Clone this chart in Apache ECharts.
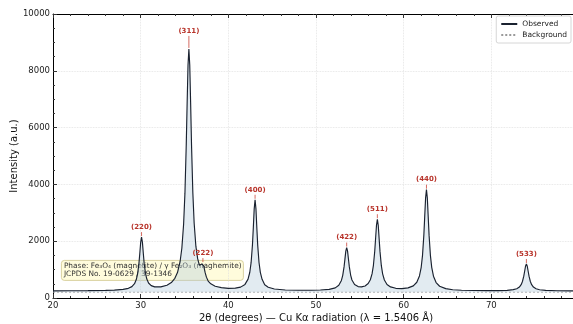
<!DOCTYPE html>
<html>
<head>
<meta charset="utf-8">
<title>XRD pattern</title>
<script src="https://cdn.jsdelivr.net/npm/echarts@6/dist/echarts.min.js"></script>
<style>
  html, body { margin: 0; padding: 0; background: #fff; }
  #xrd { width: 573px; height: 324px; }
</style>
</head>
<body>
<div id="xrd"></div>
<script>
// observed pattern (2θ in degrees, intensity in a.u.)
var theta = [20, 22, 24, 26, 27, 28, 28.6, 29, 29.3, 29.5, 29.65, 29.8, 29.9, 30, 30.1, 30.2, 30.3, 30.4, 30.55, 30.7,
  30.9, 31.2, 31.6, 32.3, 33, 33.5, 33.9, 34.2, 34.5, 34.7, 34.9, 35.05, 35.2, 35.3, 35.4, 35.5, 35.6, 35.7, 35.8, 35.95,
  36.1, 36.3, 36.5, 36.7, 36.85, 37, 37.1, 37.2, 37.35, 37.5, 37.7, 38, 38.5, 39.2, 40, 40.8, 41.4, 41.9, 42.25, 42.45,
  42.6, 42.75, 42.85, 42.95, 43.05, 43.15, 43.25, 43.35, 43.5, 43.65, 43.85, 44.15, 44.55, 45.25, 46.5, 48, 49.5, 50.5, 51.5, 52.2,
  52.6, 52.9, 53.05, 53.2, 53.3, 53.4, 53.5, 53.6, 53.7, 53.8, 53.95, 54.1, 54.4, 54.8, 55.2, 55.6, 55.95, 56.2, 56.4, 56.55,
  56.7, 56.8, 56.9, 57, 57.1, 57.2, 57.3, 57.45, 57.6, 57.8, 58.1, 58.5, 59.1, 59.8, 60.5, 61.1, 61.5, 61.8, 62, 62.15,
  62.3, 62.4, 62.5, 62.6, 62.7, 62.8, 62.9, 63.05, 63.2, 63.4, 63.7, 64.1, 64.8, 65.6, 66.6, 68, 69.5, 70.8, 71.8, 72.5,
  72.9, 73.2, 73.4, 73.55, 73.7, 73.8, 73.9, 74, 74.1, 74.2, 74.3, 74.45, 74.6, 74.8, 75.1, 75.5, 76.2, 77.5, 79, 80];
var intensity = [252, 254, 258, 268, 278, 303, 341, 400, 504, 649, 851, 1209, 1567, 1956, 2144, 1960, 1575, 1219, 865, 667,
  529, 435, 393, 392, 450, 544, 694, 897, 1285, 1759, 2605, 3692, 5393, 6845, 8189, 8770, 8194, 6854, 5406, 3714,
  2638, 1816, 1385, 1150, 1140, 1200, 1230, 1120, 900, 735, 595, 498, 415, 364, 339, 346, 383, 479, 664, 907,
  1252, 1864, 2476, 3139, 3458, 3140, 2474, 1862, 1250, 903, 656, 464, 381, 316, 282, 273, 273, 281, 304, 357,
  447, 619, 797, 1095, 1371, 1649, 1776, 1651, 1375, 1103, 809, 634, 476, 401, 391, 423, 508, 642, 857, 1151,
  1645, 2101, 2563, 2774, 2560, 2097, 1641, 1146, 851, 633, 478, 390, 341, 331, 356, 428, 555, 776, 1082, 1501,
  2206, 2857, 3515, 3814, 3515, 2856, 2205, 1500, 1079, 768, 545, 414, 329, 292, 274, 263, 260, 261, 271, 293,
  327, 386, 468, 581, 769, 942, 1118, 1198, 1118, 942, 769, 581, 468, 386, 326, 292, 269, 256, 252, 251];

// background estimate
var bgTheta = [20, 80];
var bgIntensity = [205, 205];

// indexed reflections
var peakHkl = ['(220)', '(311)', '(222)', '(400)', '(422)', '(511)', '(440)', '(533)'];
var peakTheta = [30.1, 35.5, 37.1, 43.05, 53.5, 57.0, 62.6, 74.0];
var peakIntensity = [2144, 8770, 1230, 3458, 1776, 2774, 3814, 1198];

var font = 'DejaVu Sans';

var observed = theta.map(function (t, i) { return [t, intensity[i]]; });
var background = bgTheta.map(function (t, i) { return [t, bgIntensity[i]]; });
var peaks = peakTheta.map(function (t, i) { return [t, peakIntensity[i]]; });

var chart = echarts.init(document.getElementById('xrd'), null, { renderer: 'canvas' });

var option = {
  animation: false,
  textStyle: { fontFamily: font },
  grid: { left: 53, right: -6, top: 14, bottom: 26, containLabel: false, outerBoundsMode: 'none' },
  legend: {
    orient: 'vertical',
    right: 2,
    top: 16,
    padding: [4, 4, 4, 4],
    itemGap: 3,
    itemWidth: 16,
    itemHeight: 8,
    backgroundColor: '#fff',
    borderColor: '#cccccc',
    borderWidth: 0.8,
    borderRadius: 2,
    itemStyle: { opacity: 0 },
    textStyle: { fontSize: 7.5, color: '#222', fontFamily: font },
    data: ['Observed', 'Background'],
  },
  xAxis: [
    {
      type: 'value',
      min: 20,
      max: 80,
      interval: 10,
      name: '2θ (degrees) — Cu Kα radiation (λ = 1.5406 Å)',
      nameLocation: 'middle',
      nameGap: 15,
      nameMoveOverlap: false,
      nameTextStyle: { fontSize: 10, color: '#111', fontFamily: font },
      axisLine: { lineStyle: { color: '#000', width: 1 } },
      axisTick: { inside: true, length: 4, lineStyle: { color: '#333' } },
      minorTick: { show: true, splitNumber: 5, length: 2, lineStyle: { color: '#333' } },
      axisLabel: { fontSize: 8.5, color: '#222', margin: 3, fontFamily: font },
      splitLine: { show: true, lineStyle: { color: '#e0e0e0', type: 'dotted', width: 0.8 } },
    },
    {
      type: 'value',
      position: 'top',
      min: 20,
      max: 80,
      interval: 10,
      axisLine: { lineStyle: { color: '#000', width: 1 } },
      axisTick: { inside: true, length: 4, lineStyle: { color: '#333' } },
      minorTick: { show: true, splitNumber: 5, length: 2, lineStyle: { color: '#333' } },
      axisLabel: { show: false },
      splitLine: { show: false },
    },
  ],
  yAxis: {
    type: 'value',
    min: 0,
    max: 10000,
    interval: 2000,
    name: 'Intensity (a.u.)',
    nameLocation: 'middle',
    nameGap: 34,
    nameMoveOverlap: false,
    nameTextStyle: { fontSize: 10, color: '#111', fontFamily: font },
    axisLine: { show: true, lineStyle: { color: '#000', width: 1 } },
    axisTick: { show: true, inside: true, length: 4, lineStyle: { color: '#333' } },
    minorTick: { show: true, splitNumber: 4, length: 2, lineStyle: { color: '#333' } },
    axisLabel: {
      fontSize: 8.5,
      color: '#222',
      margin: 3,
      fontFamily: font,
      formatter: function (v) { return String(v); },
    },
    splitLine: { show: true, lineStyle: { color: '#e0e0e0', type: 'dotted', width: 0.8 } },
  },
  series: [
    {
      name: 'Observed',
      type: 'line',
      data: observed,
      symbol: 'none',
      smooth: false,
      z: 3,
      lineStyle: { color: '#1a2230', width: 1.15 },
      itemStyle: { color: '#1a2230' },
      areaStyle: { color: 'rgba(180, 202, 218, 0.55)', origin: bgIntensity[0] },
    },
    {
      name: 'Background',
      type: 'line',
      data: background,
      symbol: 'none',
      z: 2,
      lineStyle: { color: '#9a9a9a', width: 0.8, type: [2, 2] },
      itemStyle: { color: '#9a9a9a' },
    },
    {
      // hkl labels with a short stem above each peak
      type: 'custom',
      data: peaks,
      z: 4,
      renderItem: function (params, api) {
        var pt = api.coord([api.value(0), api.value(1)]);
        var gap = params.dataIndex === 1 ? 18 : 10; // (311) sits higher
        return {
          type: 'group',
          children: [
            {
              type: 'line',
              shape: { x1: pt[0], y1: pt[1] - 1, x2: pt[0], y2: pt[1] - gap + 5 },
              style: { stroke: '#c9453a', lineWidth: 0.8 },
            },
            {
              type: 'text',
              x: pt[0],
              y: pt[1] - gap,
              style: {
                text: peakHkl[params.dataIndex],
                fill: '#b8342b',
                fontSize: 7,
                fontWeight: 'bold',
                fontFamily: font,
                align: 'center',
                verticalAlign: 'middle',
              },
            },
          ],
        };
      },
    },
  ],
  graphic: [
    {
      type: 'group',
      left: 61,
      top: 260,
      z: 100,
      children: [
        {
          type: 'rect',
          shape: { x: 0, y: 0, width: 182, height: 20, r: 3 },
          style: { fill: 'rgba(255, 251, 212, 0.82)', stroke: '#cfc58c', lineWidth: 0.8 },
        },
        {
          type: 'text',
          x: 2.5,
          y: 1.8,
          style: {
            text: 'Phase: Fe₃O₄ (magnetite) / γ Fe₂O₃ (maghemite)\nJCPDS No. 19-0629 / 39-1346',
            fontSize: 7.4,
            lineHeight: 8.2,
            fill: '#333',
            fontFamily: font,
          },
        },
      ],
    },
  ],
};

chart.setOption(option);
</script>
</body>
</html>
